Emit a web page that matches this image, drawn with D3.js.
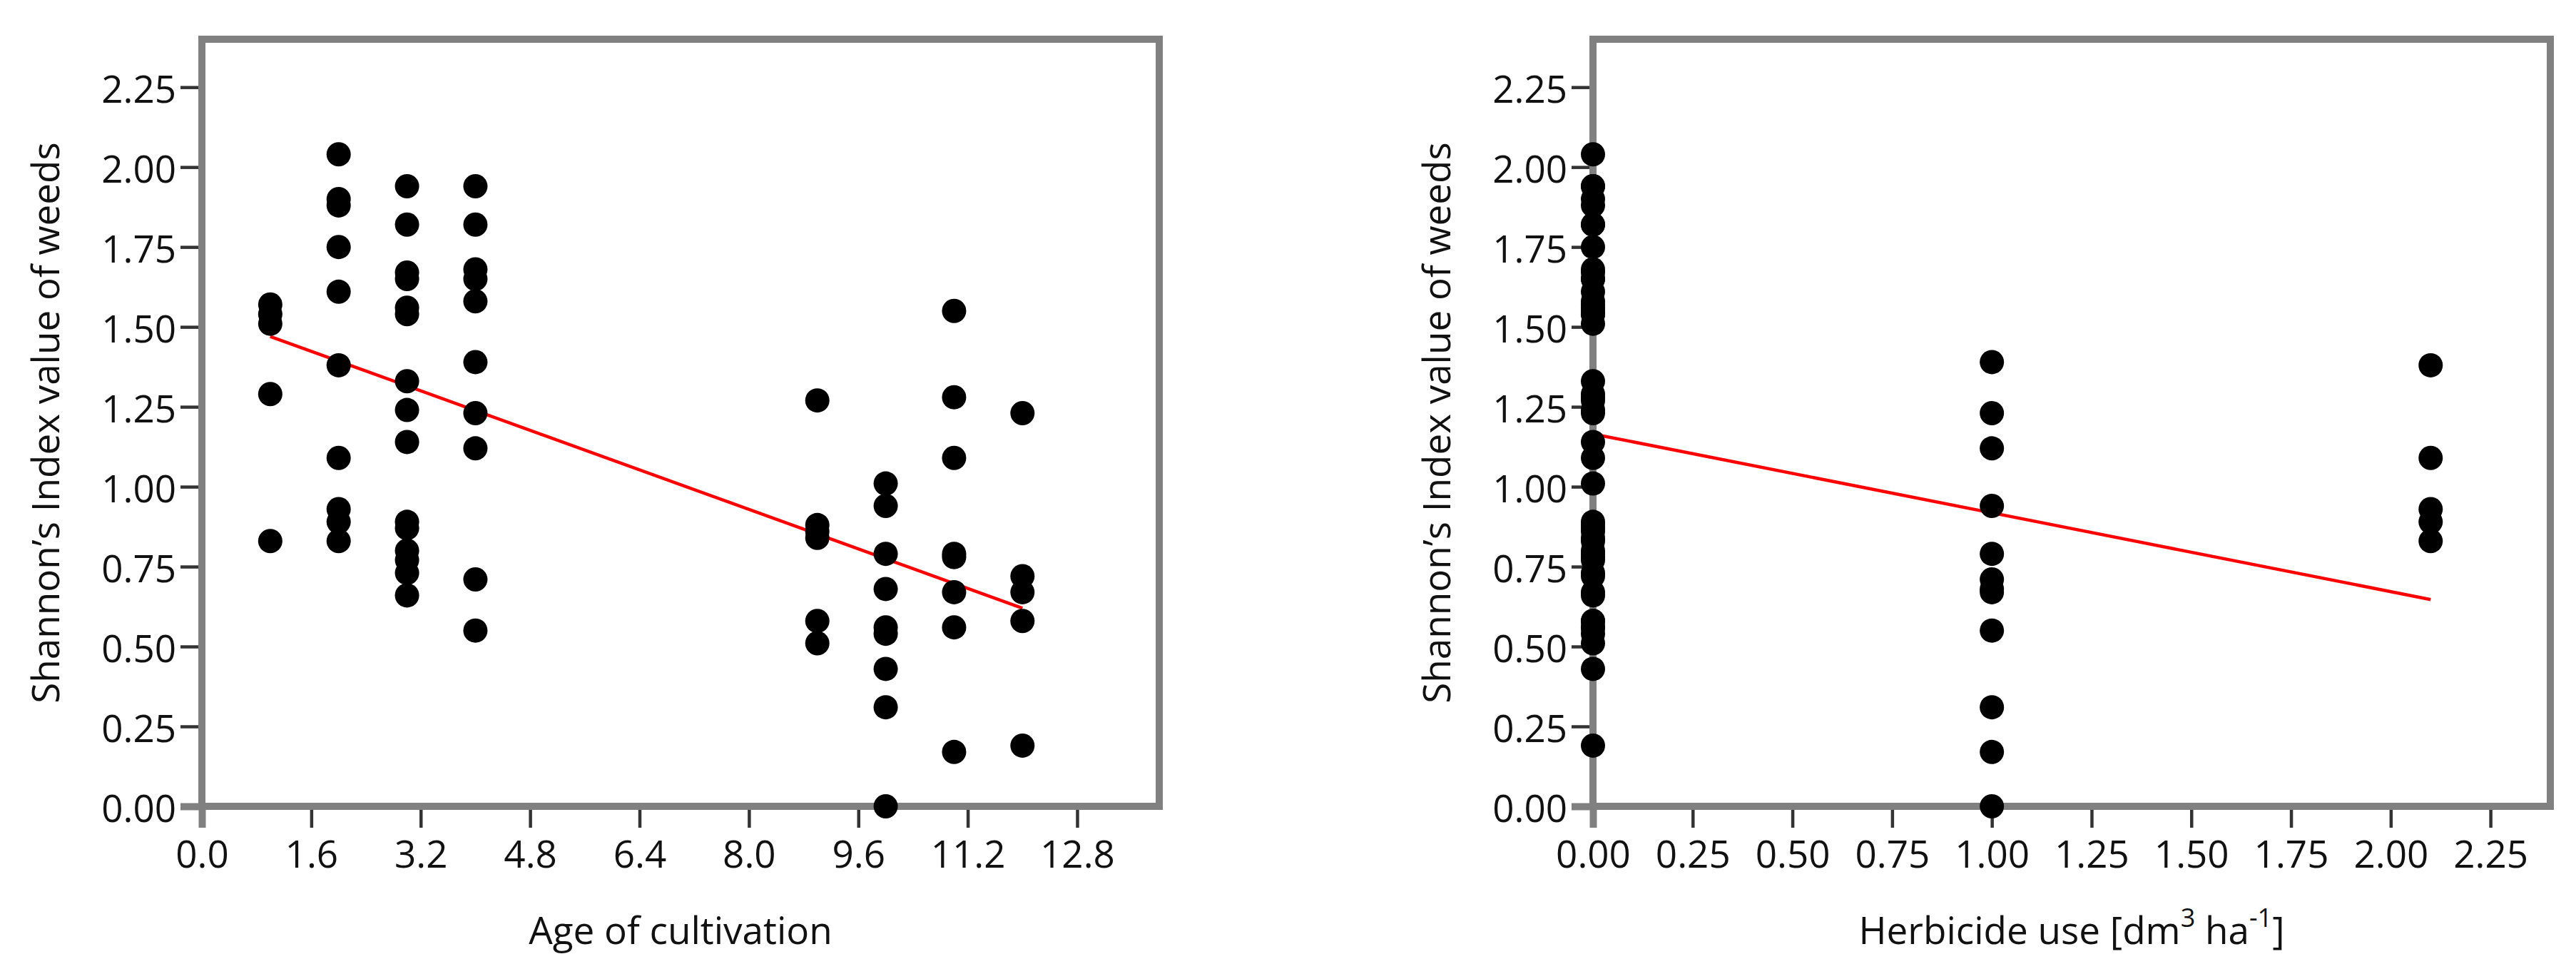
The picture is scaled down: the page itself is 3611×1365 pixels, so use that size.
<!DOCTYPE html>
<html>
<head>
<meta charset="utf-8">
<script src="https://cdn.jsdelivr.net/npm/d3@7/dist/d3.min.js"></script>
<style>
    body { margin: 0; background: #fff; }
    text { font-family: "Open Sans", sans-serif; fill: #111; }
</style>
</head>
<body>
<div id="chart"></div>
<script>
// left panel: Shannon index per age of cultivation (years)
const ageLevels = [1, 2, 3, 4, 9, 10, 11, 12];
const ageValues = [
    [1.57, 1.54, 1.51, 1.29, 0.83],
    [2.04, 1.90, 1.88, 1.75, 1.61, 1.38, 1.09, 0.93, 0.89, 0.83],
    [1.94, 1.82, 1.67, 1.65, 1.56, 1.54, 1.33, 1.24, 1.14, 0.89, 0.87, 0.80, 0.77, 0.73, 0.66],
    [1.94, 1.82, 1.68, 1.65, 1.58, 1.39, 1.23, 1.12, 0.71, 0.55],
    [1.27, 0.88, 0.86, 0.84, 0.58, 0.51],
    [1.01, 0.94, 0.79, 0.68, 0.56, 0.54, 0.43, 0.31, 0.00],
    [1.55, 1.28, 1.09, 0.79, 0.78, 0.67, 0.56, 0.17],
    [1.23, 0.72, 0.67, 0.58, 0.19]
];
const ageFitX = [1, 12];
const ageFitY = [1.47, 0.62];

// right panel: Shannon index per herbicide dose
const herbLevels = [0, 1, 2.1];
const herbValues = [
    [2.04, 1.94, 1.94, 1.90, 1.88, 1.82, 1.82, 1.75, 1.68, 1.67, 1.65, 1.65, 1.61, 1.58, 1.57, 1.56, 1.55,
        1.54, 1.54, 1.51, 1.33, 1.29, 1.28, 1.27, 1.24, 1.23, 1.14, 1.09, 1.01, 0.89, 0.88, 0.87, 0.86,
        0.84, 0.83, 0.80, 0.79, 0.78, 0.77, 0.73, 0.72, 0.67, 0.66, 0.58, 0.58, 0.56, 0.56, 0.54, 0.51,
        0.43, 0.19],
    [1.39, 1.23, 1.12, 0.94, 0.79, 0.71, 0.68, 0.67, 0.55, 0.31, 0.17, 0.00],
    [1.38, 1.09, 0.93, 0.89, 0.83]
];
const herbFitX = [0, 2.1];
const herbFitY = [1.165, 0.647];

const yTicks = [0, 0.25, 0.5, 0.75, 1, 1.25, 1.5, 1.75, 2, 2.25];
const ageTicks = [0, 1.6, 3.2, 4.8, 6.4, 8.0, 9.6, 11.2, 12.8];
const herbTicks = [0, 0.25, 0.5, 0.75, 1, 1.25, 1.5, 1.75, 2, 2.25];

const yTitle = "Shannon\u2019s Index value of weeds";

const W = 3611, H = 1365;
const plotTop = 55, plotBottom = 1130;
const frameGray = "#808080";

let svg = d3.select("#chart")
    .append("svg")
    .attr("width", W)
    .attr("height", H);

svg.append("rect")
    .attr("width", W)
    .attr("height", H)
    .style("fill", "#fff");

function drawPanel(p) {
    let g = svg.append("g");

    let x = d3.scaleLinear().domain(p.xDomain).range([p.left, p.right]);
    let y = d3.scaleLinear().domain([0, 2.4]).range([plotBottom, plotTop]);

    // x axis
    let xa = g.append("g")
        .attr("transform", "translate(0," + plotBottom + ")")
        .call(d3.axisBottom(x).tickValues(p.xTicks).tickFormat(d3.format(p.xFormat))
            .tickSize(30).tickSizeOuter(0).tickPadding(18));
    xa.select(".domain").remove();

    // y axis
    let ya = g.append("g")
        .attr("transform", "translate(" + p.left + ",0)")
        .call(d3.axisLeft(y).tickValues(yTicks).tickFormat(d3.format(".2f"))
            .tickSize(30).tickSizeOuter(0).tickPadding(6));
    ya.select(".domain").remove();

    g.selectAll(".tick line")
        .style("stroke", d => d === 0 ? frameGray : "#333")
        .style("stroke-width", d => d === 0 ? 10 : 4.5);
    g.selectAll(".tick text")
        .style("font-family", '"Open Sans", sans-serif')
        .style("font-size", "53px")
        .style("fill", "#111");
    ya.selectAll(".tick text").attr("dy", "0.4em");

    // frame
    g.append("rect")
        .attr("x", p.left)
        .attr("y", plotTop)
        .attr("width", p.right - p.left)
        .attr("height", plotBottom - plotTop)
        .style("fill", "none")
        .style("stroke", frameGray)
        .style("stroke-width", 10);

    // fit line
    g.append("line")
        .attr("x1", x(p.fitX[0]))
        .attr("y1", y(p.fitY[0]))
        .attr("x2", x(p.fitX[1]))
        .attr("y2", y(p.fitY[1]))
        .style("stroke", "#ff0000")
        .style("stroke-width", 4.5);

    // points
    let pts = [];
    p.levels.forEach((lv, i) => p.values[i].forEach(v => pts.push({x: lv, y: v})));
    g.append("g")
        .selectAll("circle")
        .data(pts)
        .enter()
        .append("circle")
        .attr("cx", d => x(d.x))
        .attr("cy", d => y(d.y))
        .attr("r", 17)
        .style("fill", "#000");

    // axis titles
    let xt = g.append("text")
        .attr("x", (p.left + p.right) / 2)
        .attr("y", 1323)
        .style("text-anchor", "middle")
        .style("font-size", "53px");
    p.xTitle.forEach(part => {
        let ts = xt.append("tspan").text(part.t);
        if (part.sup) ts.attr("baseline-shift", "super").style("font-size", "36px");
    });

    g.append("text")
        .attr("transform", "translate(" + (p.left - 200) + "," + ((plotTop + plotBottom) / 2) + ") rotate(-90)")
        .style("text-anchor", "middle")
        .style("font-size", "53px")
        .text(yTitle);
}

drawPanel({
    left: 283, right: 1625,
    xDomain: [0, 14],
    xTicks: ageTicks, xFormat: ".1f",
    levels: ageLevels, values: ageValues,
    fitX: ageFitX, fitY: ageFitY,
    xTitle: [{t: "Age of cultivation"}]
});

drawPanel({
    left: 2233, right: 3575,
    xDomain: [0, 2.4],
    xTicks: herbTicks, xFormat: ".2f",
    levels: herbLevels, values: herbValues,
    fitX: herbFitX, fitY: herbFitY,
    xTitle: [{t: "Herbicide use [dm"}, {t: "3", sup: true}, {t: " ha"}, {t: "-1", sup: true}, {t: "]"}]
});
</script>
</body>
</html>
